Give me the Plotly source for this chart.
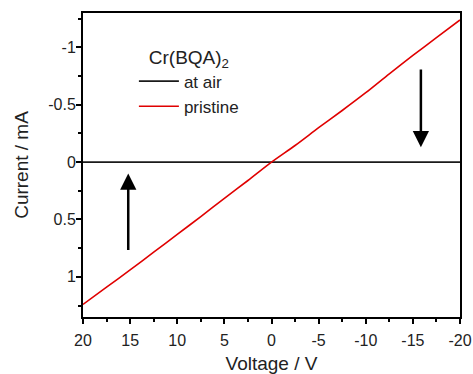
import plotly.graph_objects as go

voltage = [20, 17.5, 15, 12.5, 10, 7.5, 5, 2.5, 0, -2.5, -5, -7.5, -10, -12.5, -15, -17.5, -20]
current_pristine = [1.24, 1.09, 0.94, 0.785, 0.63, 0.475, 0.315, 0.16, 0.0,
                    -0.145, -0.30, -0.45, -0.605, -0.77, -0.93, -1.085, -1.24]
current_air = [0.0] * len(voltage)

x_ticks = [20, 15, 10, 5, 0, -5, -10, -15, -20]
x_ticklabels = ["20", "15", "10", "5", "0", "-5", "-10", "-15", "-20"]
y_ticks = [-1, -0.5, 0, 0.5, 1]
y_ticklabels = ["-1", "-0.5", "0", "0.5", "1"]

# arrow annotations: (tip voltage, tip current, tail current)
arrow_up = (15.2, 0.10, 0.78)
arrow_down = (-15.85, -0.13, -0.82)

font_family = "Liberation Sans, Arial, sans-serif"

fig = go.Figure()
fig.add_trace(go.Scatter(x=voltage, y=current_air, mode="lines", name="at air",
                         line=dict(color="#1a1a1a", width=1.6)))
fig.add_trace(go.Scatter(x=voltage, y=current_pristine, mode="lines", name="pristine",
                         line=dict(color="#e00000", width=1.6, shape="spline", smoothing=0.8)))

axis_common = dict(showline=True, linecolor="black", linewidth=2, mirror=True,
                   ticks="outside", ticklen=5, tickwidth=1.5, tickcolor="black",
                   showgrid=False, zeroline=False, automargin=False,
                   tickfont=dict(family=font_family, size=16, color="#222"))

fig.update_xaxes(range=[20, -20], tickvals=x_ticks, ticktext=x_ticklabels,
                 minor=dict(dtick=2.5, ticks="outside", ticklen=3, tickwidth=1.5, tickcolor="black"),
                 ticklabelstandoff=3,
                 title=dict(text="Voltage / V", font=dict(family=font_family, size=19, color="#222"),
                            standoff=10),
                 **axis_common)
fig.update_yaxes(range=[1.35, -1.3], tickvals=y_ticks, ticktext=y_ticklabels,
                 minor=dict(dtick=0.25, ticks="outside", ticklen=3, tickwidth=1.5, tickcolor="black"),
                 ticklabelstandoff=-3,
                 title=dict(text="Current / mA", font=dict(family=font_family, size=19, color="#222"),
                            standoff=15),
                 **axis_common)

for vx, tip, tail in (arrow_up, arrow_down):
    fig.add_annotation(x=vx, y=tip, ax=vx, ay=tail, xref="x", yref="y", axref="x", ayref="y",
                       showarrow=True, arrowhead=2, arrowsize=1.3, arrowwidth=2.5,
                       arrowcolor="black", text="")

fig.update_layout(
    width=473, height=374,
    margin=dict(l=83, r=13, t=13, b=57, autoexpand=False),
    paper_bgcolor="white", plot_bgcolor="white",
    font=dict(family=font_family, color="#222"),
    showlegend=True,
    legend=dict(x=0.135, y=0.915, xanchor="left", yanchor="top",
                bgcolor="rgba(0,0,0,0)", itemwidth=40, tracegroupgap=0,
                title=dict(text="Cr(BQA)<sub>2</sub>", side="top center",
                           font=dict(family=font_family, size=19, color="#222")),
                font=dict(family=font_family, size=17, color="#222")),
)

fig.write_html("out.html")
